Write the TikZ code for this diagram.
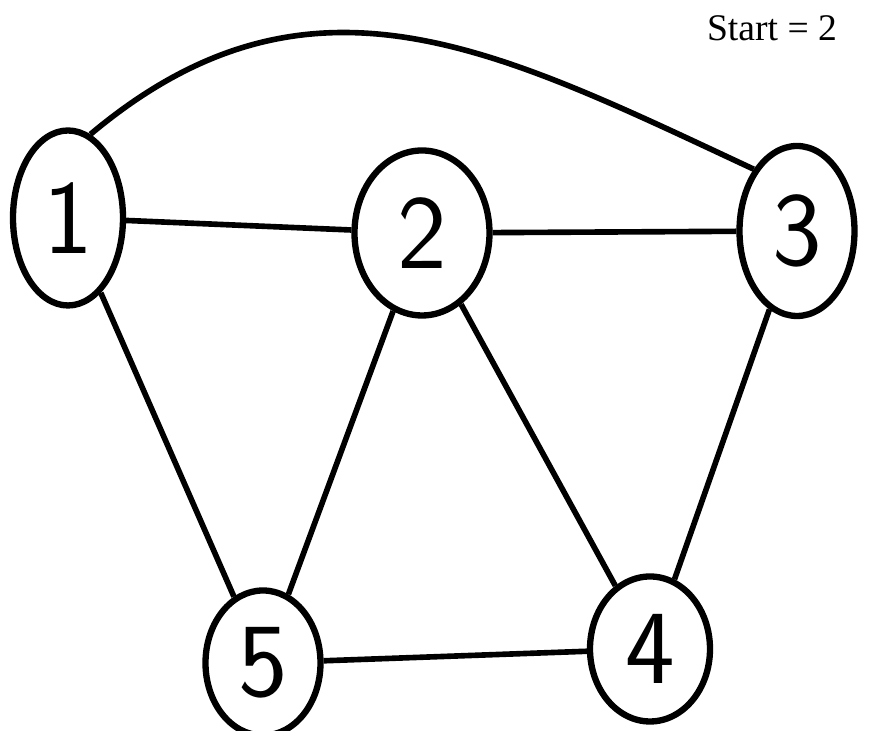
\documentclass[tikz,border=0pt]{standalone}
\usepackage{fontspec}
\setmainfont{Liberation Serif}
\usetikzlibrary{shapes.geometric}

\begin{document}
\begin{tikzpicture}
[line width=1.6pt,every node/.style={ellipse,draw,line width=1.8pt,inner sep=0pt,font=\sffamily\fontsize{30}{30}\selectfont}]
\useasboundingbox (0,0) rectangle (8.71,7.31);
\node[minimum width=1.1cm,minimum height=1.75cm] (n1) at (0.68,5.13) {1};
\node[minimum width=1.35cm,minimum height=1.65cm] (n2) at (4.22,4.98) {2};
\node[minimum width=1.15cm,minimum height=1.7cm] (n3) at (7.97,5.0) {3};
\node[minimum width=1.2cm,minimum height=1.45cm] (n4) at (6.5,0.82) {4};
\node[minimum width=1.15cm,minimum height=1.45cm] (n5) at (2.63,0.68) {5};
\node[draw=none,ellipse=false,font=\fontsize{10.7}{12}\selectfont] (start) at (7.72,7.03) {Start = 2};
\foreach \from/\to in {n1/n2,n2/n3,n1/n5,n2/n5,n2/n4,n3/n4,n5/n4}
\draw (\from) -- (\to);
\draw (n1.75) to[out=40,in=155,looseness=1.1] (n3.125);
\end{tikzpicture}
\end{document}
